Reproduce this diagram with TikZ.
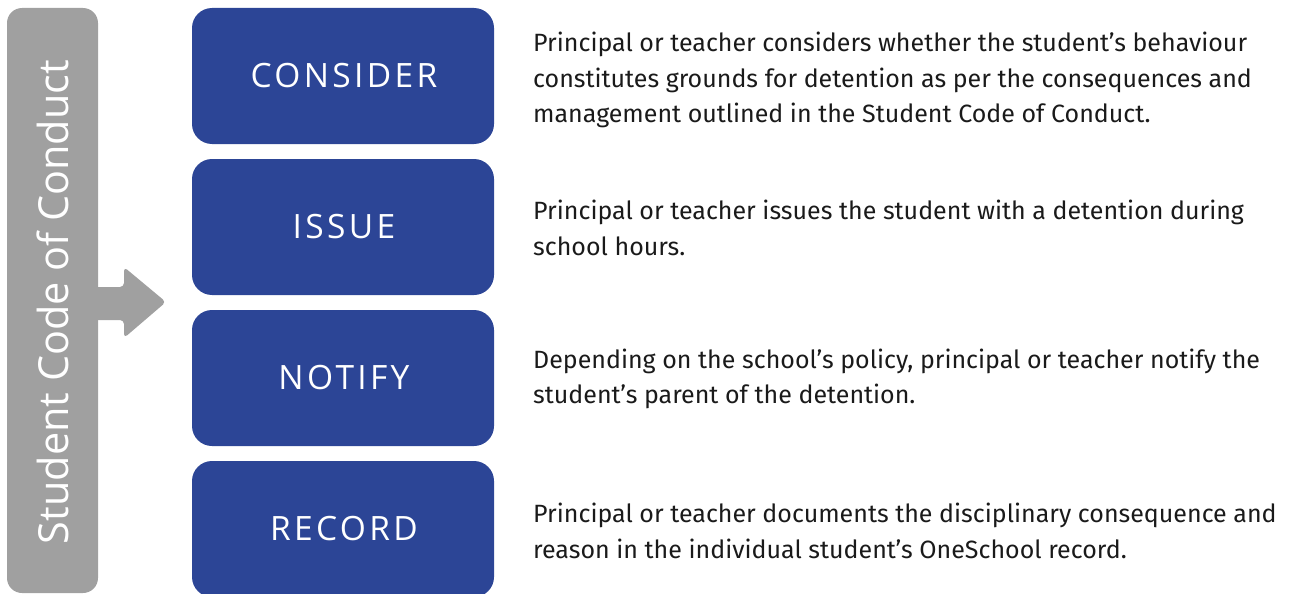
\documentclass[tikz,border=0pt]{standalone}
\usepackage{fontspec}
\setmainfont{Fira Sans}
\newfontfamily\labelfont[LetterSpace=10]{Open Sans}
\newfontfamily\sidefont{Open Sans}
\definecolor{stepblue}{HTML}{2C4596}
\definecolor{bargray}{HTML}{A0A0A0}
\definecolor{bodyblack}{HTML}{1A1A1A}
\begin{document}
\begin{tikzpicture}[x=1pt,y=-1pt,
  stepbox/.style={fill=stepblue, rounded corners=20pt},
  steplabel/.style={text=white, font=\labelfont\fontsize{33.5}{33.5}\selectfont, inner sep=0pt},
  desc/.style={anchor=west, align=left, text=bodyblack, inner sep=0pt,
    font=\fontsize{25}{35.5}\selectfont}
]
\useasboundingbox (0,0) rectangle (1294,594);
% gray bar
\fill[bargray, rounded corners=15pt] (7,8) rectangle (98,593);
\node[rotate=90, text=white, font=\sidefont\fontsize{41.4}{41.4}\selectfont, inner sep=0pt] (side) at (53,302) {Student Code of Conduct};
% arrow
\fill[bargray, rounded corners=4pt] (90,287) -- (124,287) -- (124,267) -- (166,302) -- (124,338) -- (124,320) -- (90,320) -- cycle;
% boxes
\fill[stepbox] (192,8) rectangle (494,144);
\fill[stepbox] (192,159) rectangle (494,295);
\fill[stepbox] (192,310) rectangle (494,446);
\fill[stepbox] (192,461) rectangle (494,597);
\node[steplabel] (l1) at (344,76) {CONSIDER};
\node[steplabel] (l2) at (344,227) {ISSUE};
\node[steplabel] (l3) at (344,378) {NOTIFY};
\node[steplabel] (l4) at (344,529) {RECORD};
% descriptions
\node[desc] (d1) at (533,80) {Principal or teacher considers whether the student’s behaviour\\constitutes grounds for detention as per the consequences and\\management outlined in the Student Code of Conduct.};
\node[desc] (d2) at (533,228) {Principal or teacher issues the student with a detention during\\school hours.};
\node[desc] (d3) at (533,379) {Depending on the school’s policy, principal or teacher notify the\\student’s parent of the detention.};
\node[desc] (d4) at (533,531) {Principal or teacher documents the disciplinary consequence and\\reason in the individual student’s OneSchool record.};
\end{tikzpicture}
\end{document}
